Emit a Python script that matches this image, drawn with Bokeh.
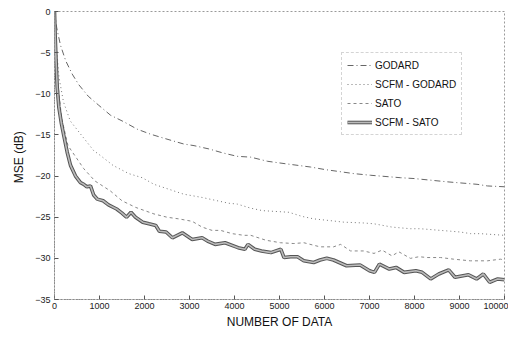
from bokeh.plotting import figure
from bokeh.models import Legend, LegendItem, Range1d, FixedTicker
from bokeh.embed import file_html
from bokeh.resources import INLINE

# ---- data ----
godard_x = [0, 50, 133, 250, 393, 540, 750, 984, 1244, 1540, 1837, 2130, 2430, 2870, 3100, 3430,
            3750, 4060, 4360, 4730, 5130, 5690, 6000, 6650, 7020, 7690, 7990, 8730, 8950, 9390, 9620, 10000]
godard_y = [0, -2.0, -4.1, -6.0, -7.6, -8.9, -10.3, -11.4, -12.6, -13.4, -14.3, -14.9, -15.4, -16.1, -16.3, -16.7,
            -17.2, -17.6, -17.7, -18.2, -18.5, -18.9, -19.2, -19.7, -19.9, -20.2, -20.3, -20.7, -20.8, -21.0, -21.2, -21.3]

scfm_godard_x = [0, 40, 100, 200, 350, 580, 870, 1020, 1300, 1650, 1950, 2210, 2870, 3280, 3870, 4060,
                 4360, 4620, 5210, 5500, 5760, 6100, 6430, 6870, 7100, 7500, 7910, 8130, 8800, 9020, 9250, 9470, 10000]
scfm_godard_y = [0, -4.0, -8.0, -11.0, -13.3, -14.9, -16.9, -17.5, -18.7, -19.7, -20.2, -21.0, -22.2, -22.6, -23.3, -23.4,
                 -23.9, -24.2, -24.4, -24.9, -25.2, -25.4, -25.6, -25.7, -25.8, -26.2, -26.4, -26.4, -26.7, -26.8, -27.0, -27.0, -27.2]

sato_x = [0, 30, 80, 160, 300, 500, 650, 900, 1240, 1500, 1800, 2210, 2500, 2760, 3060, 3280, 3500, 3690,
          3950, 4210, 4360, 4700, 5020, 5320, 5540, 5900, 6200, 6360, 6580, 6870, 7100, 7280, 7500, 7650,
          7910, 8100, 8280, 8580, 8870, 9240, 9620, 9910, 10000]
sato_y = [0, -4.0, -9.0, -13.0, -16.3, -17.9, -19.1, -20.6, -21.8, -23.0, -23.8, -24.6, -25.0, -25.2, -25.5, -26.2, -26.6, -26.6,
          -27.0, -27.2, -27.2, -27.8, -28.1, -28.2, -28.1, -28.6, -28.6, -28.3, -29.1, -29.1, -29.4, -29.0, -29.7, -29.2,
          -30.0, -29.8, -29.9, -29.9, -30.1, -30.3, -30.3, -30.1, -30.2]

scfm_sato_x = [0, 15, 35, 60, 96, 150, 207, 282, 356, 467, 578, 650, 720, 800, 870, 950, 1080, 1200, 1380,
               1500, 1600, 1700, 1800, 1960, 2100, 2250, 2330, 2480, 2620, 2840, 3060, 3280, 3400, 3570, 3790,
               4080, 4230, 4300, 4450, 4600, 4810, 5030, 5100, 5250, 5400, 5540, 5760, 5900, 6050, 6200, 6490,
               6790, 7000, 7110, 7220, 7440, 7590, 7770, 8030, 8170, 8360, 8540, 8760, 8900, 9200, 9380, 9530,
               9670, 9850, 10000]
scfm_sato_y = [0, -3.0, -6.0, -9.2, -11.6, -13.5, -15.1, -17.1, -18.7, -20.0, -20.8, -21.0, -21.3, -21.2, -22.3, -22.8, -23.0, -23.5, -24.0,
               -24.5, -25.0, -24.4, -25.0, -25.6, -25.8, -26.0, -26.7, -26.8, -27.5, -26.9, -27.7, -27.5, -27.9, -28.3, -28.1,
               -28.7, -28.9, -28.3, -28.9, -29.1, -29.3, -28.9, -29.9, -29.8, -29.8, -30.3, -30.5, -30.2, -30.0, -30.2, -30.9,
               -30.8, -31.5, -31.7, -30.7, -31.3, -31.1, -31.7, -31.5, -31.7, -32.5, -31.9, -31.4, -32.3, -32.0, -32.5, -31.9,
               -32.9, -32.5, -32.6]

x_ticks = [0, 1000, 2000, 3000, 4000, 5000, 6000, 7000, 8000, 9000, 10000]
y_ticks = [0, -5, -10, -15, -20, -25, -30, -35]
labels = ["GODARD", "SCFM - GODARD", "SATO", "SCFM - SATO"]
x_title = "NUMBER OF DATA"
y_title = "MSE  (dB)"

FONT = "Liberation Sans Narrow, Liberation Sans, Arial, sans-serif"

p = figure(width=508, height=331, output_backend="svg", toolbar_location=None,
           x_range=Range1d(0, 10000), y_range=Range1d(-35, 0),
           min_border_left=54, min_border_right=4, min_border_top=11, min_border_bottom=25)
p.background_fill_color = "white"
p.border_fill_color = "white"
p.outline_line_color = "#9a9a9a"
p.outline_line_dash = "2 2"
p.outline_line_width = 1
p.grid.visible = False

for ax in (p.xaxis[0], p.yaxis[0]):
    ax.axis_line_color = "#8a8a8a"
    ax.axis_line_dash = "2 1"
    ax.major_tick_in = 4
    ax.major_tick_out = 0
    ax.major_tick_line_color = "#555555"
    ax.minor_tick_line_color = None
    ax.major_label_text_font = FONT
    ax.major_label_text_font_size = "9px"
    ax.major_label_text_color = "#222222"
    ax.axis_label_text_font = FONT
    ax.axis_label_text_font_size = "12px"
    ax.axis_label_text_font_style = "normal"
    ax.axis_label_text_color = "#111111"

p.xaxis[0].ticker = FixedTicker(ticks=x_ticks)
p.yaxis[0].ticker = FixedTicker(ticks=y_ticks)
p.xaxis[0].major_label_standoff = 3
p.yaxis[0].major_label_standoff = 4
p.xaxis[0].axis_label = x_title
p.xaxis[0].axis_label_standoff = 3
p.yaxis[0].axis_label = y_title
p.yaxis[0].axis_label_standoff = 6

r1 = p.line(godard_x, godard_y, line_color="#666666", line_width=1, line_dash="6 3 1 3")
r2 = p.line(scfm_godard_x, scfm_godard_y, line_color="#777777", line_width=1, line_dash="1 3")
r3 = p.line(sato_x, sato_y, line_color="#888888", line_width=1, line_dash="3 3")
r4a = p.line(scfm_sato_x, scfm_sato_y, line_color="#555555", line_width=3.6)
r4b = p.line(scfm_sato_x, scfm_sato_y, line_color="#bbbbbb", line_width=1.6)

legend = Legend(items=[LegendItem(label=labels[0], renderers=[r1]),
                       LegendItem(label=labels[1], renderers=[r2]),
                       LegendItem(label=labels[2], renderers=[r3]),
                       LegendItem(label=labels[3], renderers=[r4a, r4b])],
                location=(287, 164))
legend.label_text_font = FONT
legend.label_text_font_size = "10px"
legend.label_text_color = "#111111"
legend.glyph_width = 25
legend.glyph_height = 14
legend.label_height = 14
legend.spacing = 5
legend.padding = 5
legend.margin = 0
legend.label_standoff = 3
legend.border_line_color = "#aaaaaa"
legend.border_line_dash = "2 2"
legend.background_fill_color = "white"
legend.background_fill_alpha = 1.0
p.add_layout(legend, "center")

open("out.html", "w").write(file_html(p, INLINE))
